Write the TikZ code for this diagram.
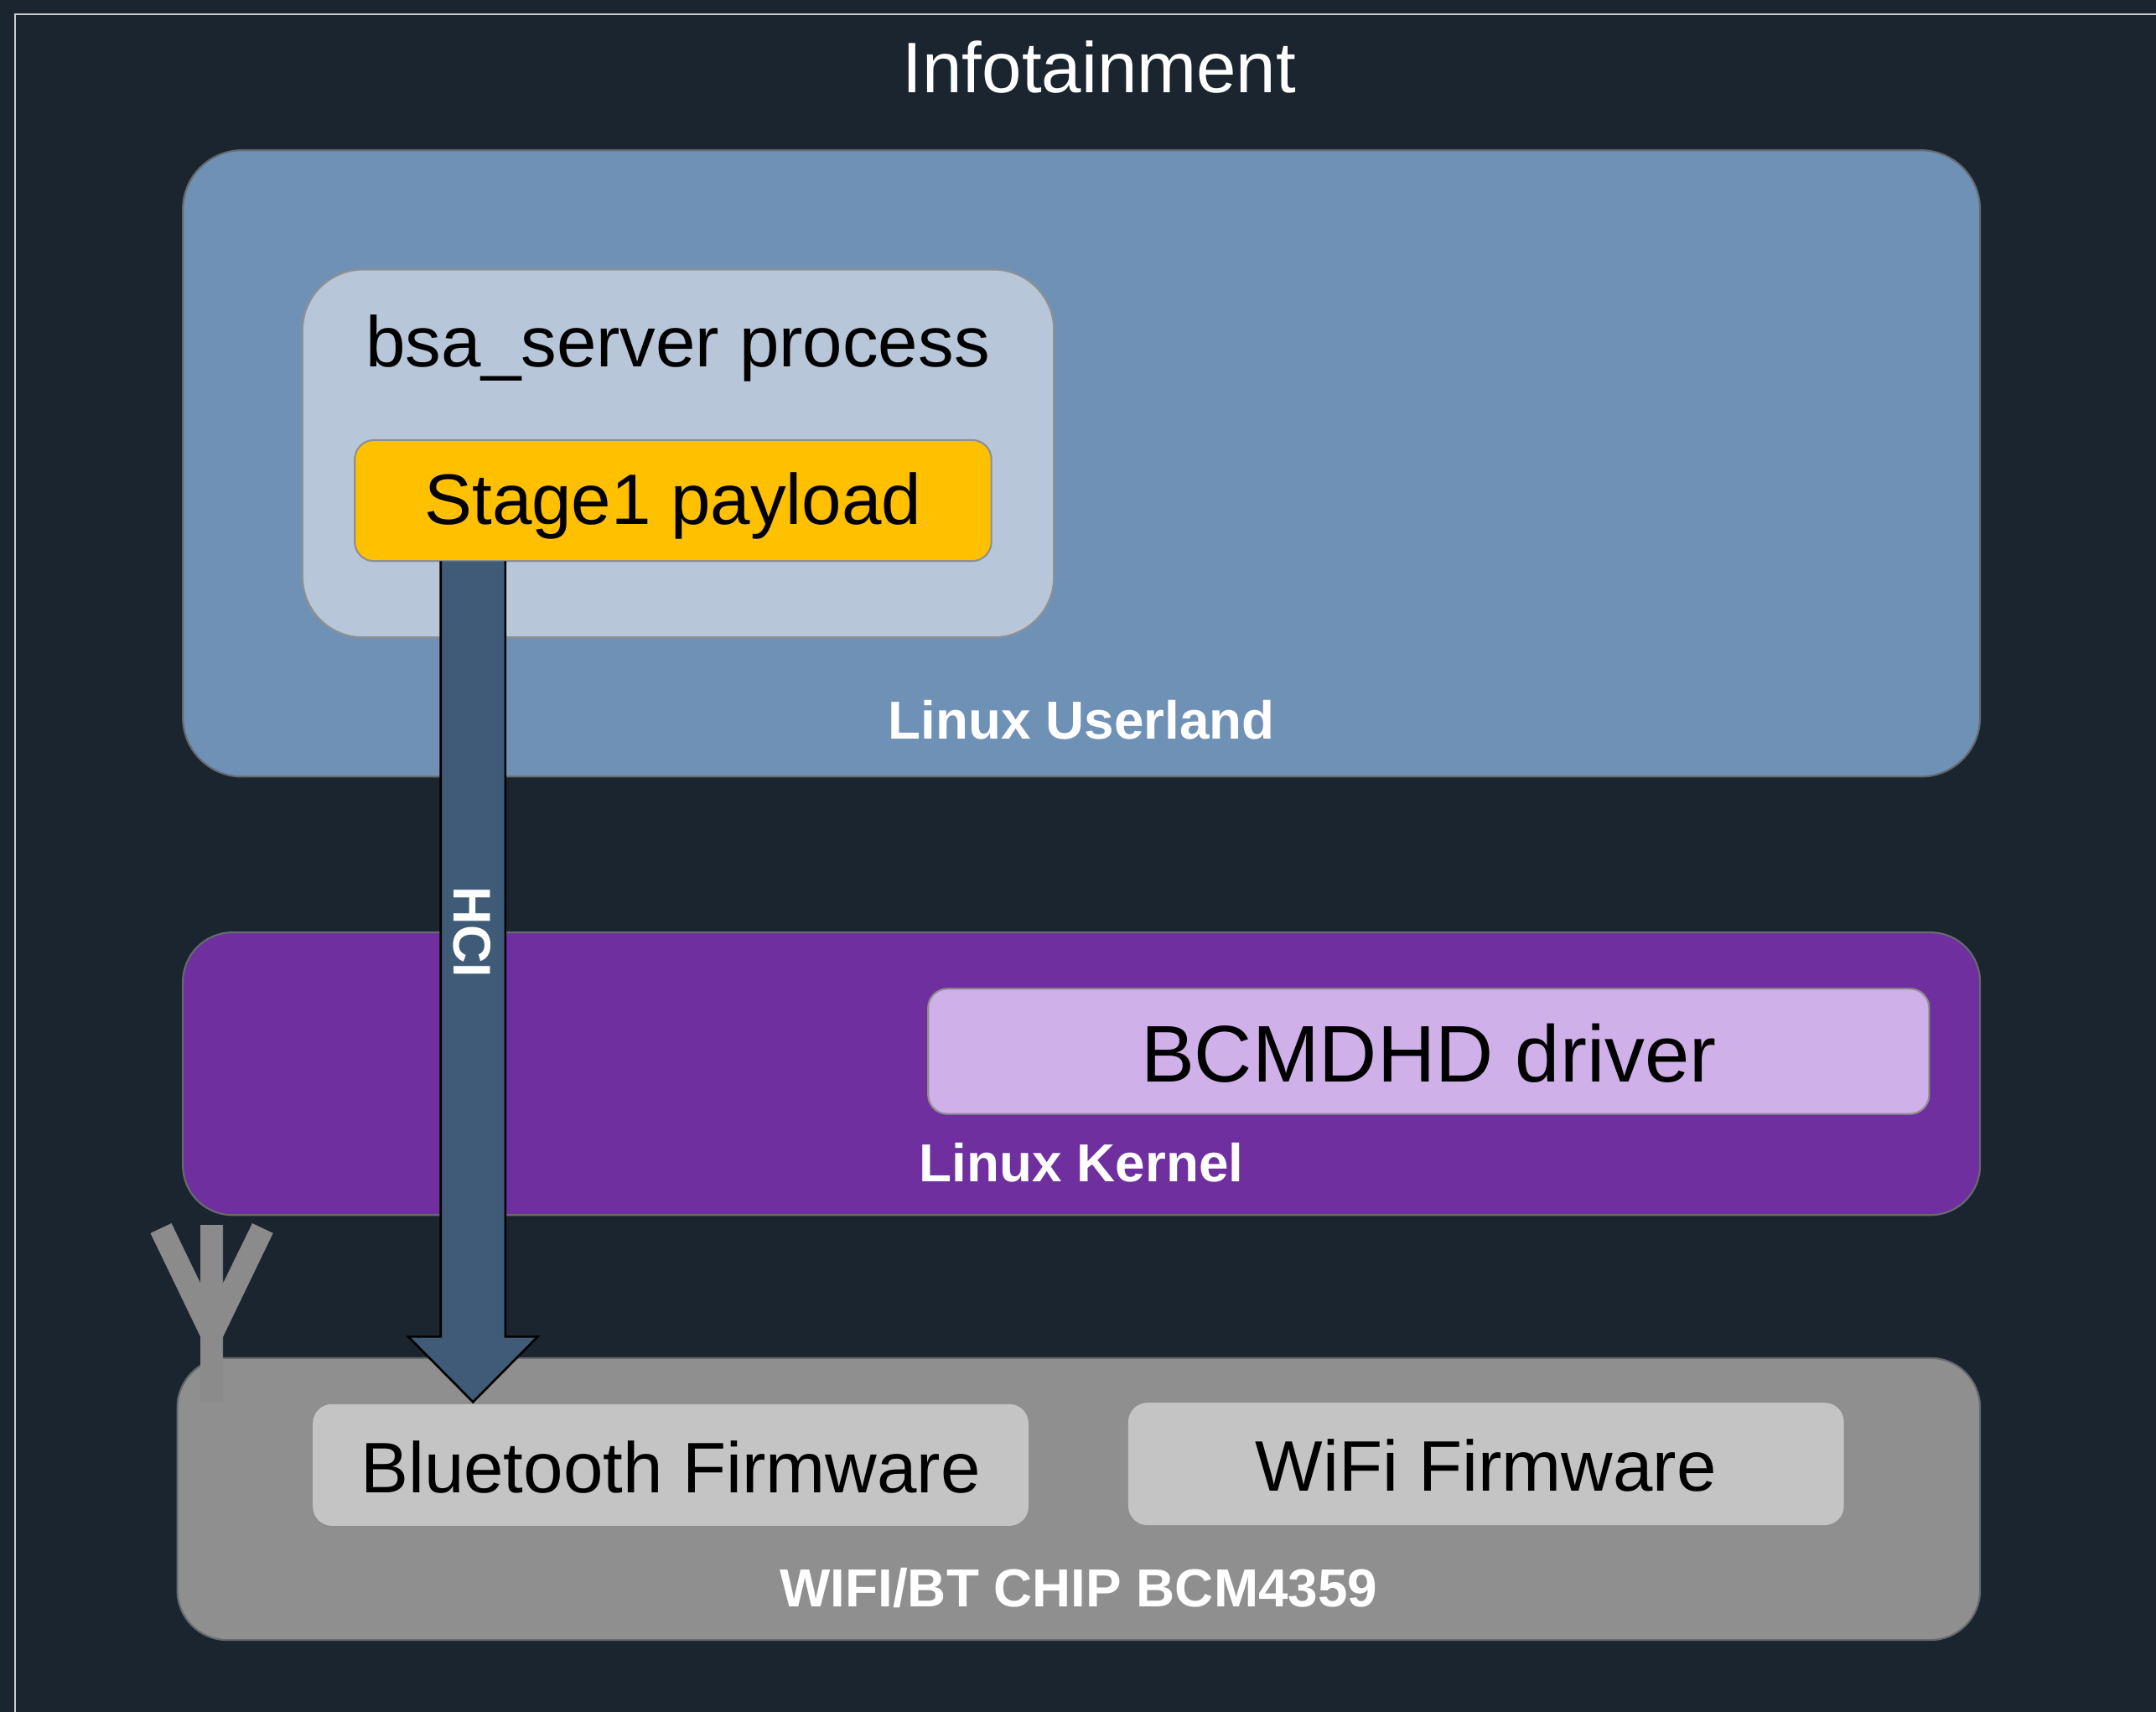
\documentclass[tikz,border=0pt]{standalone}
\usepackage{fontspec}
\setmainfont{Liberation Sans}
\usetikzlibrary{calc}
\definecolor{bgc}{HTML}{1A2530}
\definecolor{framec}{HTML}{C9CDCE}
\definecolor{userc}{HTML}{7091B6}
\definecolor{procc}{HTML}{B7C6D8}
\definecolor{stagec}{HTML}{FFC000}
\definecolor{kernc}{HTML}{6F2F9F}
\definecolor{drvc}{HTML}{CFB0E8}
\definecolor{chipc}{HTML}{8F8F8F}
\definecolor{fwc}{HTML}{C4C4C4}
\definecolor{arrc}{HTML}{405B77}
\definecolor{antc}{HTML}{8B8B8B}
\definecolor{edgeA}{HTML}{666A6E}
\definecolor{edgeB}{HTML}{8F9092}
\tikzset{
  panel/.style={draw=#1, line width=1.3pt, inner sep=0pt, outer sep=0pt},
  bigtxt/.style={font=\fontsize{52}{60}\selectfont, text=black, text height=37.2pt, text depth=0pt},
  laybl/.style={font=\fontsize{38.9}{44}\selectfont\bfseries, text=white, anchor=base, inner sep=0pt},
  boxsize/.style n args={2}{minimum width=#1pt, minimum height=#2pt}
}
\begin{document}
\begin{tikzpicture}[x=1pt,y=-1pt]
\useasboundingbox (0,0) rectangle (1568,1244.28);
\fill[bgc] (-3,-3) rectangle (1571,1248);
\draw[framec, line width=1.2pt] (1575,10.4) -- (11,10.4) -- (11,1250);
\node[anchor=base, inner sep=0pt, text=white, font=\fontsize{52}{60}\selectfont] (title) at (799.5,67.5) {Infotainment};

% Linux userland
\node[panel=edgeA, fill=userc, rounded corners=43pt, boxsize={1307}{455.5}] (userland) at (786.5,337) {};
\node[panel=edgeB, fill=procc, rounded corners=44pt, boxsize={546.5}{267.5}] (proc) at (493.25,329.75) {};
\node[anchor=base, inner sep=0pt, text=black, font=\fontsize{52}{60}\selectfont] (proclabel) at (493,266.5) {bsa\_server process};
\node[panel=edgeB, fill=stagec, rounded corners=14pt, bigtxt, text height=34.2pt, boxsize={463}{88}] (stage) at (489.5,364) {Stage1 payload};
\node[laybl] (userlabel) at (786.5,537.5) {Linux Userland};

% Linux kernel
\node[panel=edgeA, fill=kernc, rounded corners=36pt, boxsize={1307}{205.5}] (kernel) at (786.5,780.75) {};
\node[panel=edgeB, fill=drvc, rounded corners=14pt, bigtxt, font=\fontsize{58.4}{66}\selectfont, text height=44.5pt, boxsize={728}{91}] (driver) at (1039,764.5) {BCMDHD driver};
\node[laybl] (kernlabel) at (786.5,859.5) {Linux Kernel};

% Chip
\node[panel=edgeA, fill=chipc, rounded corners=36pt, boxsize={1311}{205}] (chip) at (784.5,1090) {};
\filldraw[antc] (109.7,896.8) -- (124.6,889.8) -- (146,934) -- (146,891) -- (162,891) -- (162,934)
  -- (183.6,889.8) -- (198.3,896.8) -- (162,972) -- (162,1019.5) -- (146,1019.5) -- (146,972) -- cycle;
\node[fill=fwc, rounded corners=14pt, inner sep=0pt, outer sep=0pt, bigtxt, text height=40.2pt, boxsize={520.5}{88.5}] (bt) at (487.75,1065.25) {Bluetooth Firmware};
\node[fill=fwc, rounded corners=14pt, inner sep=0pt, outer sep=0pt, bigtxt, text height=39.2pt, boxsize={520.5}{89}] (wifi) at (1080.75,1064.5) {WiFi Firmware};
\node[laybl] (chiplabel) at (784.5,1168.5) {WIFI/BT CHIP BCM4359};

% HCI block arrow
\coordinate (arrowaxis) at (344,0);
\coordinate (arrowtop) at (stage.south -| arrowaxis);
\coordinate (arrowtip) at ($(bt.north -| arrowaxis)+(0,-1.5)$);
\fill[arrc] ($(arrowtop)+(-23.5,0)$) -- ($(arrowtip)+(-23.5,-47.5)$) -- ($(arrowtip)+(-47,-47.5)$) -- (arrowtip)
  -- ($(arrowtip)+(47,-47.5)$) -- ($(arrowtip)+(23.5,-47.5)$) -- ($(arrowtop)+(23.5,0)$) -- cycle;
\draw[black, line width=1.6pt, miter limit=10] ($(arrowtop)+(-23.5,0)$) -- ($(arrowtip)+(-23.5,-47.5)$) -- ($(arrowtip)+(-47,-47.5)$) -- (arrowtip)
  -- ($(arrowtip)+(47,-47.5)$) -- ($(arrowtip)+(23.5,-47.5)$) -- ($(arrowtop)+(23.5,0)$);
\node[rotate=-90, inner sep=0pt, text=white, font=\fontsize{38.5}{44}\selectfont\bfseries] (hci) at (343.5,678) {HCI};
\end{tikzpicture}
\end{document}
